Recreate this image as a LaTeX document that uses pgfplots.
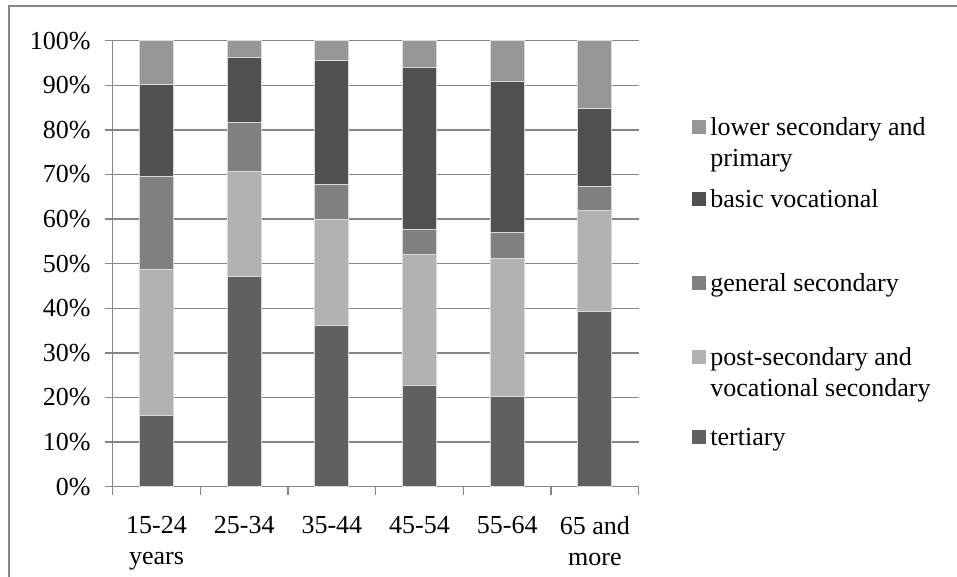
\documentclass[border=0pt]{standalone}
\usepackage{pgfplots}
\pgfplotsset{compat=1.18}
\usepackage{fontspec}
\setmainfont{Liberation Serif}
\definecolor{gridc}{HTML}{868686}
\definecolor{cTer}{HTML}{606060}
\definecolor{cPost}{HTML}{B2B2B2}
\definecolor{cGen}{HTML}{808080}
\definecolor{cBas}{HTML}{505050}
\definecolor{cLow}{HTML}{969696}
\begin{document}
\fontsize{13}{15.5}\selectfont
\begin{tikzpicture}
\useasboundingbox (0,0) rectangle (478.5pt,288.5pt);
\draw[gridc, line width=0.75pt] (4.5pt,-5pt) -- (4.5pt,285.5pt) -- (485pt,285.5pt);
\begin{axis}[
  at={(56.35pt,45.15pt)}, anchor=south west,
  scale only axis, width=263pt, height=223pt,
  ybar stacked, bar width=17pt,
  xmin=-0.5, xmax=5.5, ymin=0, ymax=100,
  axis x line*=bottom, axis y line*=left,
  axis line style={gridc, line width=0.75pt},
  xtick={0,...,5},
  xticklabels={{15-24\\years},{25-34},{35-44},{45-54},{55-64},{65 and\\more}},
  xticklabel style={align=center, yshift=-6.5pt},
  minor xtick={-0.5,0.5,...,5.5},
  every major x tick/.append style={draw=none},
  minor tick length=4pt,
  major tick length=4pt,
  tick align=outside,
  tick style={gridc, line width=0.75pt},
  ytick={0,10,...,100},
  yticklabel={\pgfmathprintnumber{\tick}\%},
  yticklabel style={xshift=-2.5pt},
  /pgf/number format/assume math mode=true,
  ymajorgrids,
  major grid style={gridc, line width=0.75pt},
  every axis plot/.append style={draw=black!15, line width=0.5pt},
]
\addplot[fill=cTer] coordinates {(0,16.0) (1,47.2) (2,36.1) (3,22.6) (4,20.2) (5,39.3)};
\addplot[fill=cPost] coordinates {(0,32.8) (1,23.5) (2,23.9) (3,29.4) (4,31.0) (5,22.7)};
\addplot[fill=cGen] coordinates {(0,20.8) (1,10.9) (2,7.75) (3,5.75) (4,5.9) (5,5.2)};
\addplot[fill=cBas] coordinates {(0,20.5) (1,14.65) (2,27.85) (3,36.25) (4,33.7) (5,17.6)};
\addplot[fill=cLow] coordinates {(0,9.9) (1,3.75) (2,4.4) (3,6.0) (4,9.2) (5,15.2)};
\end{axis}
% legend
\fill[cLow] (346pt,221.5pt) rectangle (353pt,228.5pt);
\node[anchor=base west, inner sep=0pt] at (355pt,220.5pt) {lower secondary and};
\node[anchor=base west, inner sep=0pt] at (355pt,205pt) {primary};
\fill[cBas] (346pt,185.5pt) rectangle (353pt,192.5pt);
\node[anchor=base west, inner sep=0pt] at (355pt,184.5pt) {basic vocational};
\fill[cGen] (346pt,143.5pt) rectangle (353pt,150.5pt);
\node[anchor=base west, inner sep=0pt] at (355pt,142.5pt) {general secondary};
\fill[cPost] (346pt,106.5pt) rectangle (353pt,113.5pt);
\node[anchor=base west, inner sep=0pt] at (355pt,105.5pt) {post-secondary and};
\node[anchor=base west, inner sep=0pt] at (355pt,90pt) {vocational secondary};
\fill[cTer] (346pt,66.5pt) rectangle (353pt,73.5pt);
\node[anchor=base west, inner sep=0pt] at (355pt,65.5pt) {tertiary};
\end{tikzpicture}
\end{document}
